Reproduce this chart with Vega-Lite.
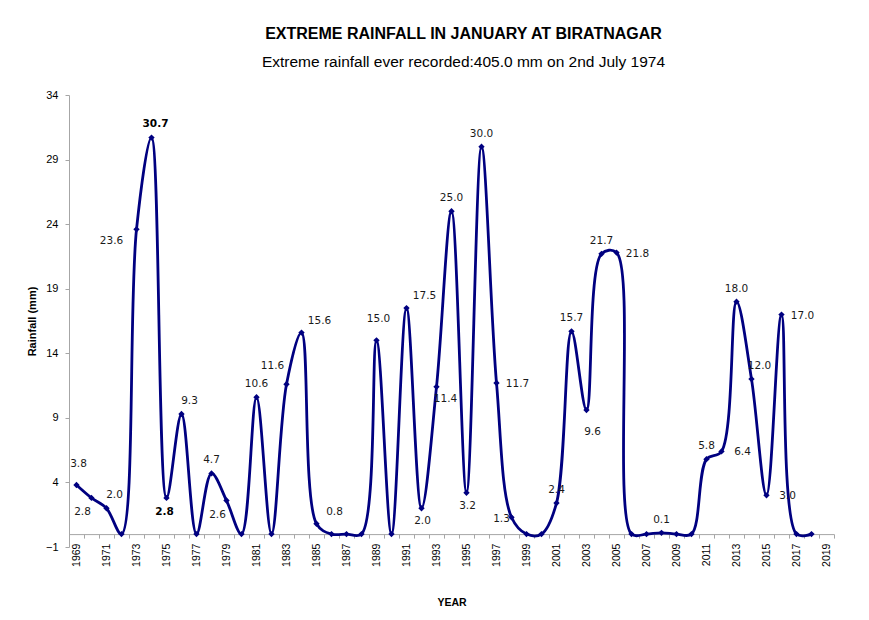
{
  "$schema": "https://vega.github.io/schema/vega-lite/v6.json",
  "width": 765,
  "height": 452,
  "autosize": {"type": "none"},
  "padding": {"left": 69, "top": 95, "right": 35, "bottom": 73},
  "background": "white",
  "config": {
    "view": {"stroke": null},
    "font": "Liberation Sans"
  },
  "title": {
    "text": "EXTREME  RAINFALL  IN JANUARY AT BIRATNAGAR",
    "subtitle": "Extreme rainfall ever recorded:405.0 mm on 2nd July 1974",
    "frame": "group",
    "anchor": "middle",
    "dx": 12,
    "offset": 19,
    "font": "Liberation Sans",
    "fontSize": 16,
    "fontWeight": "bold",
    "color": "#000000",
    "subtitleFont": "Liberation Sans",
    "subtitleFontSize": 15.5,
    "subtitleColor": "#000000",
    "subtitlePadding": 13
  },
  "data": {
    "values": [
      {"year": 1969, "rain": 3.8},
      {"year": 1970, "rain": 2.8},
      {"year": 1971, "rain": 2.0},
      {"year": 1972, "rain": 0},
      {"year": 1973, "rain": 23.6},
      {"year": 1974, "rain": 30.7},
      {"year": 1975, "rain": 2.8},
      {"year": 1976, "rain": 9.3},
      {"year": 1977, "rain": 0},
      {"year": 1978, "rain": 4.7},
      {"year": 1979, "rain": 2.6},
      {"year": 1980, "rain": 0},
      {"year": 1981, "rain": 10.6},
      {"year": 1982, "rain": 0},
      {"year": 1983, "rain": 11.6},
      {"year": 1984, "rain": 15.6},
      {"year": 1985, "rain": 0.8},
      {"year": 1986, "rain": 0},
      {"year": 1987, "rain": 0},
      {"year": 1988, "rain": 0},
      {"year": 1989, "rain": 15.0},
      {"year": 1990, "rain": 0},
      {"year": 1991, "rain": 17.5},
      {"year": 1992, "rain": 2.0},
      {"year": 1993, "rain": 11.4},
      {"year": 1994, "rain": 25.0},
      {"year": 1995, "rain": 3.2},
      {"year": 1996, "rain": 30.0},
      {"year": 1997, "rain": 11.7},
      {"year": 1998, "rain": 1.3},
      {"year": 1999, "rain": 0},
      {"year": 2000, "rain": 0},
      {"year": 2001, "rain": 2.4},
      {"year": 2002, "rain": 15.7},
      {"year": 2003, "rain": 9.6},
      {"year": 2004, "rain": 21.7},
      {"year": 2005, "rain": 21.8},
      {"year": 2006, "rain": 0},
      {"year": 2007, "rain": 0},
      {"year": 2008, "rain": 0.1},
      {"year": 2009, "rain": 0},
      {"year": 2010, "rain": 0},
      {"year": 2011, "rain": 5.8},
      {"year": 2012, "rain": 6.4},
      {"year": 2013, "rain": 18.0},
      {"year": 2014, "rain": 12.0},
      {"year": 2015, "rain": 3.0},
      {"year": 2016, "rain": 17.0},
      {"year": 2017, "rain": 0},
      {"year": 2018, "rain": 0}
    ]
  },
  "encoding": {
    "x": {
      "field": "year",
      "type": "ordinal",
      "bandPosition": 0.5,
      "scale": {
        "type": "band",
        "paddingInner": 0,
        "paddingOuter": 0,
        "domain": [1969,1970,1971,1972,1973,1974,1975,1976,1977,1978,1979,1980,1981,1982,1983,1984,1985,1986,1987,1988,1989,1990,1991,1992,1993,1994,1995,1996,1997,1998,1999,2000,2001,2002,2003,2004,2005,2006,2007,2008,2009,2010,2011,2012,2013,2014,2015,2016,2017,2018,2019]
      },
      "axis": {
        "title": "YEAR",
        "titleFont": "Liberation Sans",
        "titleFontSize": 10.5,
        "titleFontWeight": "bold",
        "titleColor": "#000000",
        "titlePadding": 31,
        "offset": -12.9,
        "tickBand": "extent",
        "labelExpr": "datum.value % 2 == 1 ? datum.value : ''",
        "labelAngle": -90,
        "labelFont": "Liberation Sans",
        "labelFontSize": 10.5,
        "labelColor": "#000000",
        "labelPadding": 5,
        "tickSize": 4,
        "tickColor": "#a6a6a6",
        "domainColor": "#a6a6a6",
        "grid": false
      }
    },
    "y": {
      "field": "rain",
      "type": "quantitative",
      "scale": {"domain": [-1, 34], "nice": false, "zero": false},
      "axis": {
        "title": "Rainfall (mm)",
        "titleFont": "Liberation Sans",
        "titleFontSize": 11,
        "titleFontWeight": "bold",
        "titleColor": "#000000",
        "titlePadding": 8,
        "values": [-1, 4, 9, 14, 19, 24, 29, 34],
        "labelFont": "Liberation Sans",
        "labelFontSize": 11,
        "labelColor": "#000000",
        "labelPadding": 7,
        "tickSize": 4,
        "tickColor": "#a6a6a6",
        "domainColor": "#a6a6a6",
        "grid": false
      }
    }
  },
  "layer": [
    {
      "mark": {"type": "line", "interpolate": "catmull-rom", "color": "#000080", "strokeWidth": 2.8}
    },
    {
      "mark": {"type": "point", "shape": "diamond", "filled": true, "size": 40, "color": "#000080", "opacity": 1}
    },
    {
      "transform": [{"filter": {"field": "year", "oneOf": [1978, 1981, 1994, 1996, 2001, 2002, 2004, 2008, 2013, 2011]}}],
      "mark": {"type": "text", "dx": 0, "dy": -13, "font": "DejaVu Sans", "fontSize": 10.5, "color": "#1a1a1a"},
      "encoding": {"text": {"field": "rain", "type": "quantitative", "format": ".1f"}}
    },
    {
      "transform": [{"filter": {"field": "year", "oneOf": [1974]}}],
      "mark": {"type": "text", "dx": 4, "dy": -14, "font": "DejaVu Sans", "fontSize": 10.5, "fontWeight": "bold", "color": "#000000"},
      "encoding": {"text": {"field": "rain", "type": "quantitative", "format": ".1f"}}
    },
    {
      "transform": [{"filter": {"field": "year", "oneOf": [1969, 1989]}}],
      "mark": {"type": "text", "dx": 2, "dy": -21, "font": "DejaVu Sans", "fontSize": 10.5, "color": "#1a1a1a"},
      "encoding": {"text": {"field": "rain", "type": "quantitative", "format": ".1f"}}
    },
    {
      "transform": [{"filter": {"field": "year", "oneOf": [1971, 1976, 2014]}}],
      "mark": {"type": "text", "dx": 8, "dy": -13, "font": "DejaVu Sans", "fontSize": 10.5, "color": "#1a1a1a"},
      "encoding": {"text": {"field": "rain", "type": "quantitative", "format": ".1f"}}
    },
    {
      "transform": [{"filter": {"field": "year", "oneOf": [1984, 1985, 1991]}}],
      "mark": {"type": "text", "dx": 18, "dy": -12, "font": "DejaVu Sans", "fontSize": 10.5, "color": "#1a1a1a"},
      "encoding": {"text": {"field": "rain", "type": "quantitative", "format": ".1f"}}
    },
    {
      "transform": [{"filter": {"field": "year", "oneOf": [1997, 2005, 2012, 2015, 2016]}}],
      "mark": {"type": "text", "dx": 21, "dy": 1, "font": "DejaVu Sans", "fontSize": 10.5, "color": "#1a1a1a"},
      "encoding": {"text": {"field": "rain", "type": "quantitative", "format": ".1f"}}
    },
    {
      "transform": [{"filter": {"field": "year", "oneOf": [1992, 1995]}}],
      "mark": {"type": "text", "dx": 1, "dy": 13, "font": "DejaVu Sans", "fontSize": 10.5, "color": "#1a1a1a"},
      "encoding": {"text": {"field": "rain", "type": "quantitative", "format": ".1f"}}
    },
    {
      "transform": [{"filter": {"field": "year", "oneOf": [1975]}}],
      "mark": {"type": "text", "dx": -2, "dy": 14, "font": "DejaVu Sans", "fontSize": 10.5, "fontWeight": "bold", "color": "#000000"},
      "encoding": {"text": {"field": "rain", "type": "quantitative", "format": ".1f"}}
    },
    {
      "transform": [{"filter": {"field": "year", "oneOf": [1970, 1979]}}],
      "mark": {"type": "text", "dx": -9, "dy": 14, "font": "DejaVu Sans", "fontSize": 10.5, "color": "#1a1a1a"},
      "encoding": {"text": {"field": "rain", "type": "quantitative", "format": ".1f"}}
    },
    {
      "transform": [{"filter": {"field": "year", "oneOf": [1973]}}],
      "mark": {"type": "text", "dx": -25, "dy": 12, "font": "DejaVu Sans", "fontSize": 10.5, "color": "#1a1a1a"},
      "encoding": {"text": {"field": "rain", "type": "quantitative", "format": ".1f"}}
    },
    {
      "transform": [{"filter": {"field": "year", "oneOf": [1983]}}],
      "mark": {"type": "text", "dx": -14, "dy": -18, "font": "DejaVu Sans", "fontSize": 10.5, "color": "#1a1a1a"},
      "encoding": {"text": {"field": "rain", "type": "quantitative", "format": ".1f"}}
    },
    {
      "transform": [{"filter": {"field": "year", "oneOf": [1993]}}],
      "mark": {"type": "text", "dx": 9, "dy": 12, "font": "DejaVu Sans", "fontSize": 10.5, "color": "#1a1a1a"},
      "encoding": {"text": {"field": "rain", "type": "quantitative", "format": ".1f"}}
    },
    {
      "transform": [{"filter": {"field": "year", "oneOf": [1998]}}],
      "mark": {"type": "text", "dx": -10, "dy": 2, "font": "DejaVu Sans", "fontSize": 10.5, "color": "#1a1a1a"},
      "encoding": {"text": {"field": "rain", "type": "quantitative", "format": ".1f"}}
    },
    {
      "transform": [{"filter": {"field": "year", "oneOf": [2003]}}],
      "mark": {"type": "text", "dx": 6, "dy": 22, "font": "DejaVu Sans", "fontSize": 10.5, "color": "#1a1a1a"},
      "encoding": {"text": {"field": "rain", "type": "quantitative", "format": ".1f"}}
    }
  ]
}
